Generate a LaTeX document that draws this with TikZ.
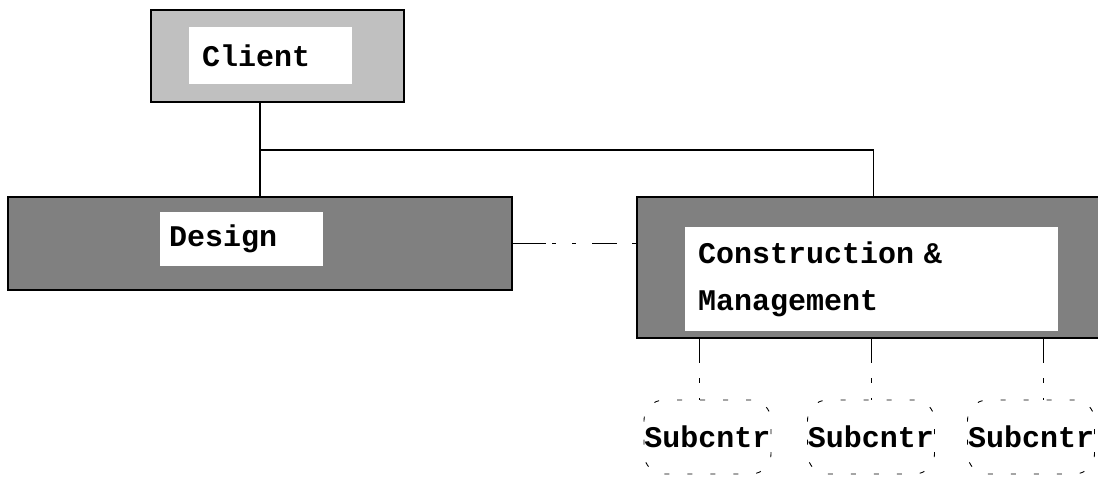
\documentclass[tikz,border=0pt]{standalone}
\usepackage{fontspec}
\setmainfont{Liberation Mono}
\definecolor{lightbox}{HTML}{C0C0C0}
\definecolor{darkbox}{HTML}{808080}
\begin{document}
\begin{tikzpicture}[x=1pt,y=-1pt,
  outerbox/.style={draw=black,line width=2pt,inner sep=0pt},
  innerbox/.style={fill=white,draw=none,inner ysep=0pt,align=left,
     font=\fontsize{30}{47}\selectfont\bfseries},
  subbox/.style={draw=black,line width=0.9pt,rounded corners=20pt,
     dash pattern=on 5pt off 18pt,minimum width=127pt,minimum height=74pt,
     inner sep=0pt,font=\fontsize{30}{36}\selectfont\bfseries},
  conn/.style={line width=1.2pt},
  subconn/.style={line width=1pt,dash pattern=on 24pt off 15pt on 5pt off 15pt}]
\useasboundingbox (0,0) rectangle (1098,477);
% outer boxes
\node[outerbox,fill=lightbox,minimum width=253pt,minimum height=92pt] (client) at (277.5,56) {};
\node[outerbox,fill=darkbox,minimum width=504pt,minimum height=93pt] (design) at (260,243.5) {};
\node[outerbox,fill=darkbox,minimum width=473pt,minimum height=141pt] (cm) at (873.5,267.5) {};
% inner white boxes with text
\node[innerbox,inner xsep=13pt,text width=137pt,minimum height=57pt] (clientin) at (270.5,55.5) {Client};
\node[innerbox,inner xsep=9pt,text width=145pt,minimum height=54pt] (designin) at (241.5,239) {Design};
\node[innerbox,inner xsep=13pt,text width=347pt,minimum height=104pt] (cmin) at (871.5,279) {Construction \&\\Management};
% subcontractors
\node[subbox] (sub1) at (707.5,437) {Subcntr};
\node[subbox] (sub2) at (871,437) {Subcntr};
\node[subbox] (sub3) at (1031,437) {Subcntr};
% connectors
\coordinate (split) at (260,150);
\draw[conn] (client.south -| design.north) -- (design.north);
\draw[conn] (split) -| (cm.north);
\draw[line width=1.2pt,dash pattern=on 33pt off 6pt on 4pt off 16pt on 4pt off 16pt on 25pt off 15pt on 5pt off 5pt]
  (design.east) -- (cm.west |- design.east);
\coordinate (t1) at ([xshift=-8.5pt]sub1.north);
\coordinate (t3) at ([xshift=12pt]sub3.north);
\draw[subconn] (cm.south -| t1) -- (t1);
\draw[subconn] (cm.south -| sub2.north) -- (sub2.north);
\draw[subconn] (cm.south -| t3) -- (t3);
\end{tikzpicture}
\end{document}
